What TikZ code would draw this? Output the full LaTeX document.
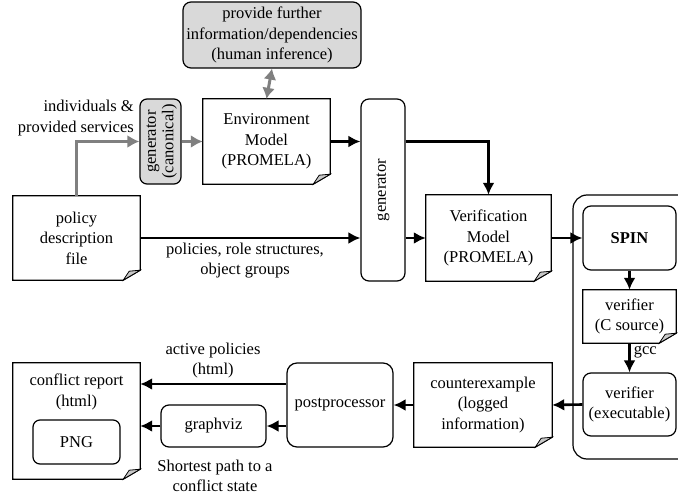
\documentclass[tikz,border=0pt]{standalone}
\usepackage{fontspec}
\setmainfont{Liberation Serif}
\usetikzlibrary{arrows.meta,calc}

\definecolor{boxgray}{HTML}{D9D9D9}
\definecolor{linkgray}{HTML}{808080}
\definecolor{foldgray}{HTML}{C8C8C8}

\tikzset{
  lbl/.style={inner sep=0pt, align=center, font=\fontsize{16.5}{20.5}\selectfont},
  rbox/.style={lbl, draw, line width=1.2pt, rounded corners=8pt},
  gbox/.style={rbox, fill=boxgray},
  docbox/.style={lbl},
  arr/.style={line width=2.6pt, -{Latex[length=12pt,width=12pt]}},
  garr/.style={line width=3pt, draw=linkgray, -{Latex[length=12pt,width=13pt]}},
  gdarr/.style={line width=3pt, draw=linkgray, {Latex[length=11pt,width=13pt]}-{Latex[length=11pt,width=13pt]}},
}

% document outline with a folded lower-right corner, drawn round a named node
\newcommand\docframe[1]{%
  \draw[line width=1.2pt, line join=miter]
    (#1.north west) -- (#1.north east) -- ([yshift=10pt]#1.south east)
    -- ([xshift=-17pt]#1.south east) -- (#1.south west) -- cycle;
  \filldraw[fill=foldgray, draw=black, line width=0.8pt]
    ([yshift=10pt]#1.south east) -- ([xshift=-17pt]#1.south east)
    -- ([xshift=-11pt,yshift=9pt]#1.south east) -- cycle;}

\begin{document}
\begin{tikzpicture}[x=1pt,y=-1pt]
\useasboundingbox (0,0) rectangle (678,495);

% upper row
\node[gbox, minimum width=178pt, minimum height=66pt] (human) at (272,35)
  {provide further\\information/dependencies\\(human inference)};
\node[docbox, minimum width=127pt, minimum height=85pt] (env) at (266.5,141.5)
  {Environment\\Model\\(PROMELA)};
\docframe{env}
\node[gbox, rounded corners=7pt, minimum width=41pt, minimum height=85pt] (gcan) at (160.5,141.5)
  {\rotatebox{90}{\begin{tabular}{@{}c@{}}generator\\[-3pt](canonical)\end{tabular}}};
\node[lbl, anchor=east, align=right] (indiv) at (134,118)
  {individuals \&\\provided services};

% middle row
\node[docbox, minimum width=127pt, minimum height=84pt] (pol) at (76.5,238)
  {policy\\description\\file};
\docframe{pol}
\node[rbox, minimum width=44pt, minimum height=182pt] (gen) at (383,190)
  {\rotatebox{90}{generator}};
\node[docbox, minimum width=125pt, minimum height=86pt] (vm) at (488.5,238)
  {Verification\\Model\\(PROMELA)};
\docframe{vm}
\node[lbl] (polinfo) at (245,260.5) {policies, role structures,\\object groups};

% SPIN tool chain
\draw[line width=1.2pt, rounded corners=14pt] (700,195) -- (573,195) -- (573,459) -- (700,459);
\node[rbox, minimum width=93pt, minimum height=64pt, font=\fontsize{16.5}{20.5}\selectfont\bfseries] (spin) at (629.5,238) {SPIN};
\node[docbox, minimum width=93pt, minimum height=53pt] (vcs) at (629.5,316.5)
  {verifier\\(C source)};
\docframe{vcs}
\node[rbox, minimum width=93pt, minimum height=63pt] (vexe) at (629.5,404.5)
  {verifier\\(executable)};

% lower row
\node[docbox, minimum width=138pt, minimum height=84pt] (ce) at (483,405)
  {counterexample\\(logged\\information)};
\docframe{ce}
\node[rbox, rounded corners=10pt, minimum width=106pt, minimum height=84pt] (post) at (340,405)
  {postprocessor};
\node[rbox, minimum width=105pt, minimum height=42pt] (gv) at (213.5,426) {graphviz};
\node[docbox, minimum width=127pt, minimum height=116pt] (cr) at (76.5,421) {};
\docframe{cr}
\node[lbl] (crtext) at (76.5,392) {conflict report\\(html)};
\node[rbox, rounded corners=7pt, minimum width=87pt, minimum height=44pt] (png) at (76.5,442) {PNG};
\node[lbl] (actlbl) at (213,360.5) {active policies\\(html)};
\node[lbl] (splbl) at (215,476) {Shortest path to a\\conflict state};

% connectors
\draw[gdarr] (human.south) -- (env.north);
\draw[garr] (pol.north) |- (gcan.west);
\draw[garr] (gcan.east) -- (env.west);
\draw[arr] (env.east) -- (env.east -| gen.west);
\draw[arr] (env.east -| gen.east) -| (vm.north);
\draw[arr] (pol.east) -- (pol.east -| gen.west);
\draw[arr] (vm.west -| gen.east) -- (vm.west);
\draw[arr] (vm.east) -- (spin.west);
\draw[arr] (spin.south) -- (vcs.north);
\draw[arr] (vcs.south) -- node[lbl, right=3pt, pos=0.3] (gcc) {gcc} (vexe.north);
\draw[arr] (vexe.west) -- (ce.east);
\draw[arr] (ce.west) -- (post.east);
\coordinate (actstart) at ([yshift=21pt]post.west);
\draw[arr] (actstart) -- (actstart -| cr.east);
\draw[arr] (gv.east -| post.west) -- (gv.east);
\draw[arr] (gv.west) -- (gv.west -| cr.east);
\end{tikzpicture}
\end{document}
